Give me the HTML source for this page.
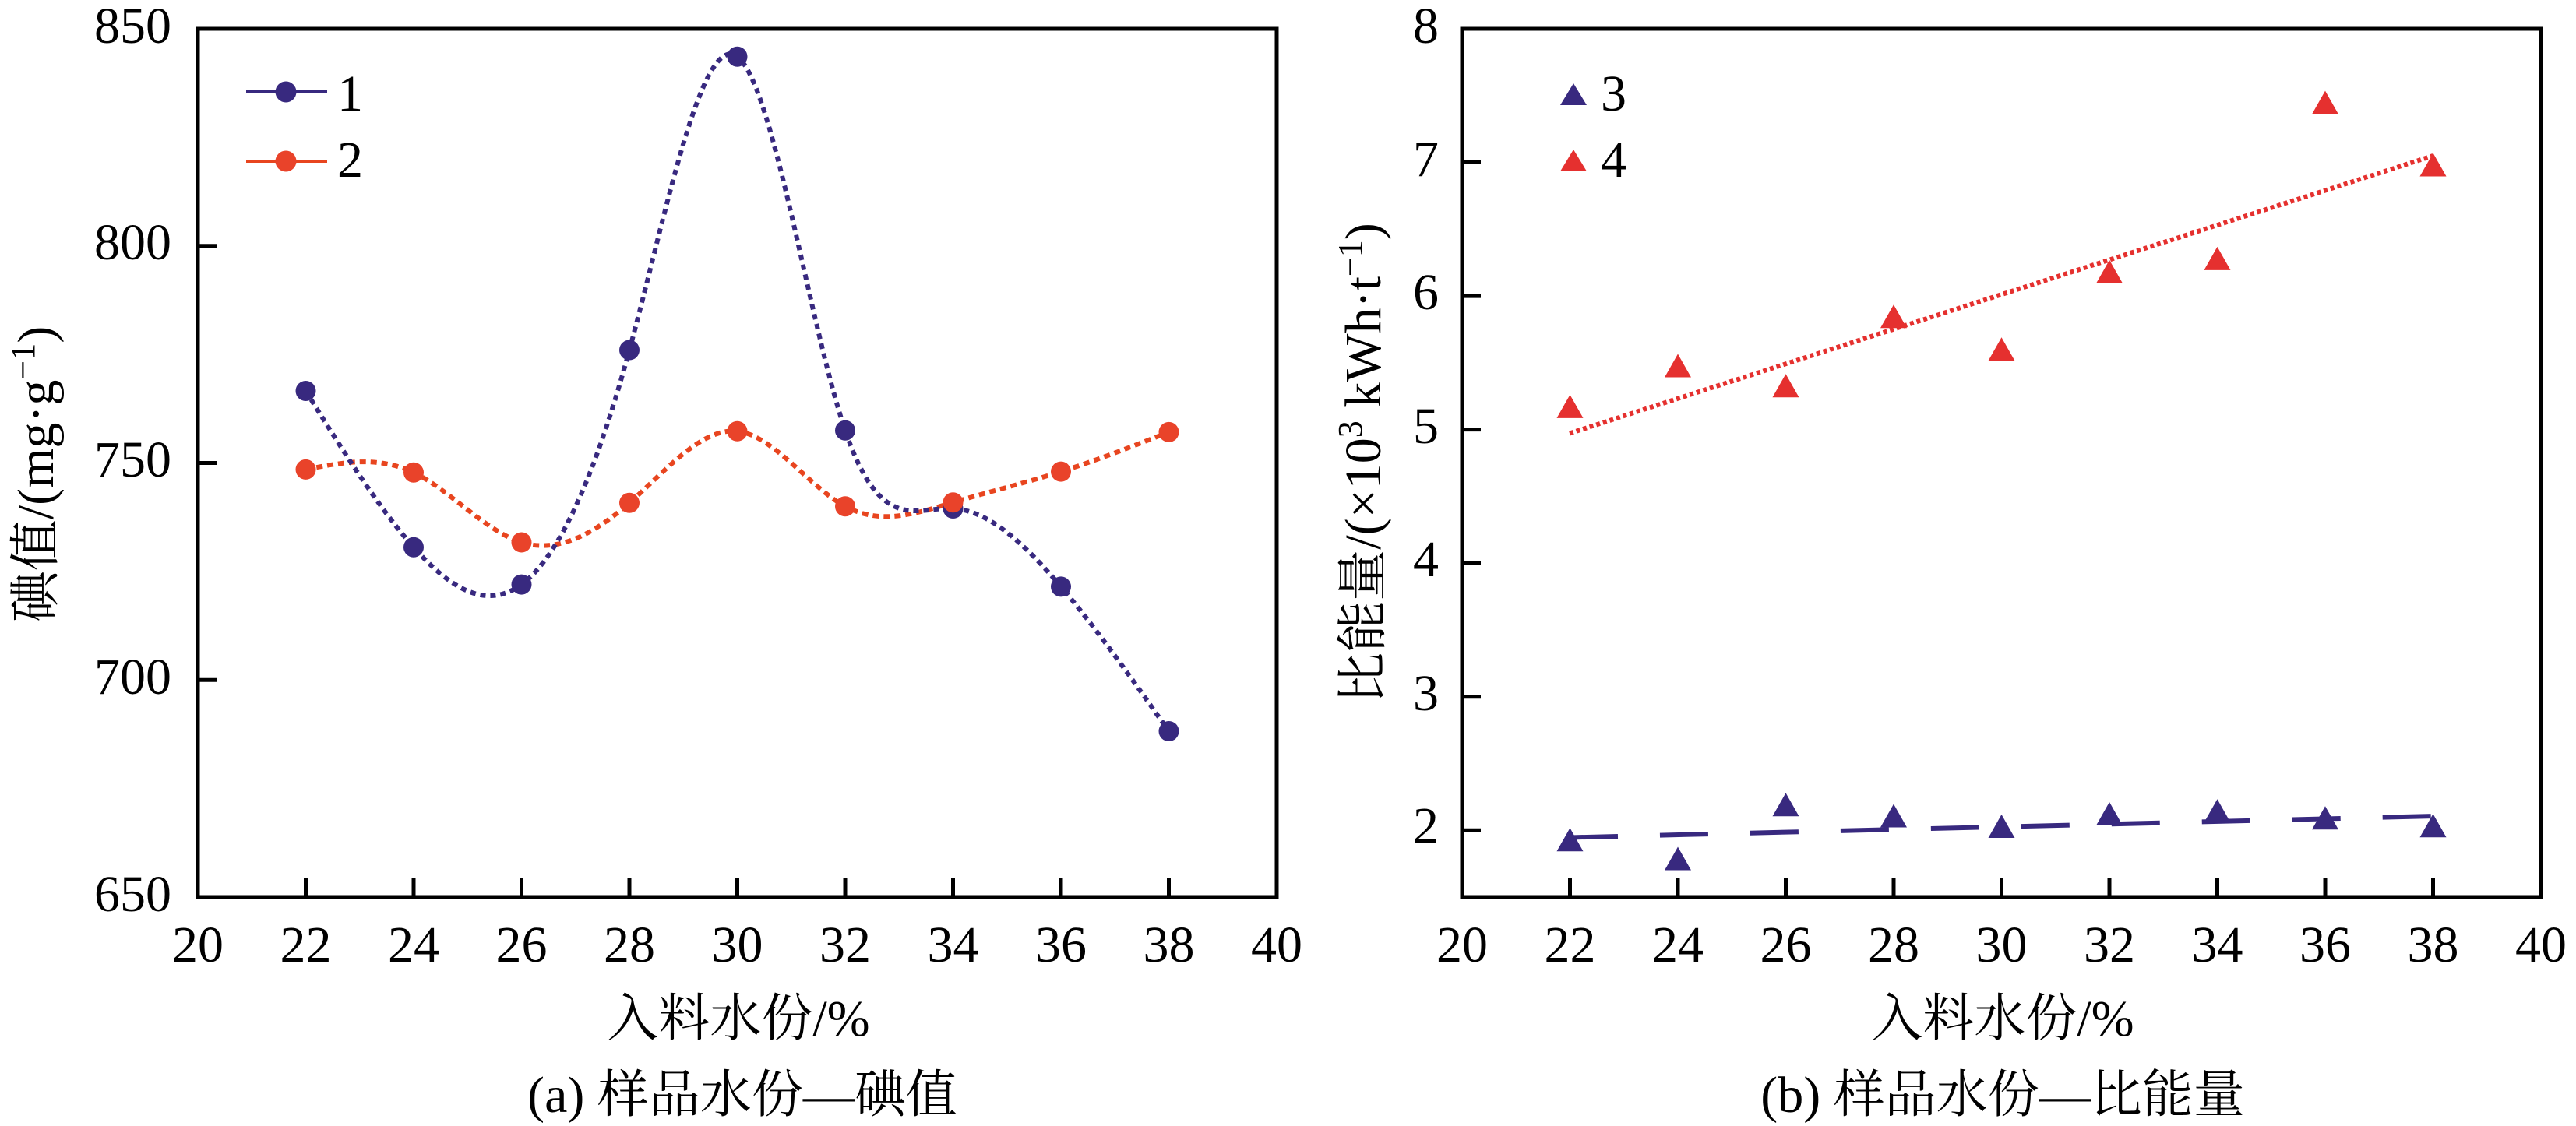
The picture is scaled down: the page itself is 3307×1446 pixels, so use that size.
<!DOCTYPE html>
<html>
<head>
<meta charset="utf-8">
<style>
html,body{margin:0;padding:0;background:#fff;}
svg{display:block;}
text{font-family:"Liberation Serif","Noto Serif CJK SC",serif;fill:#000;}
</style>
</head>
<body>
<svg width="3307" height="1446" viewBox="0 0 3307 1446" xmlns="http://www.w3.org/2000/svg">
<rect x="0" y="0" width="3307" height="1446" fill="#fff"/>

<!-- ================= LEFT PLOT ================= -->
<g stroke="#000" stroke-width="5" fill="none">
  <rect x="254" y="37" width="1385" height="1115"/>
  <path d="M392.5,1152V1128 M531,1152V1128 M669.5,1152V1128 M808,1152V1128 M946.5,1152V1128 M1085,1152V1128 M1223.5,1152V1128 M1362,1152V1128 M1500.5,1152V1128"/>
  <path d="M254,873.25H278 M254,594.5H278 M254,315.75H278"/>
</g>
<g font-size="66" text-anchor="middle">
  <text x="254" y="1235">20</text>
  <text x="392.5" y="1235">22</text>
  <text x="531" y="1235">24</text>
  <text x="669.5" y="1235">26</text>
  <text x="808" y="1235">28</text>
  <text x="946.5" y="1235">30</text>
  <text x="1085" y="1235">32</text>
  <text x="1223.5" y="1235">34</text>
  <text x="1362" y="1235">36</text>
  <text x="1500.5" y="1235">38</text>
  <text x="1639" y="1235">40</text>
</g>
<g font-size="66" text-anchor="end">
  <text x="220" y="55">850</text>
  <text x="220" y="333">800</text>
  <text x="220" y="612">750</text>
  <text x="220" y="891">700</text>
  <text x="220" y="1170">650</text>
</g>

<!-- series 2 (red) curve -->
<path d="M392.5,602.9 C438.67,593.8 484.83,584.7 531,606.8 C577.17,628.9 623.33,682.14 669.5,696.5 C715.67,710.86 761.83,686.32 808,645.8 C854.17,605.28 900.33,548.82 946.5,553.8 C992.67,558.78 1038.83,625.2 1085,650.25 C1131.17,675.3 1177.33,658.96 1223.5,645.2 C1269.67,631.44 1315.83,620.28 1362,605.65 C1408.17,591.02 1454.33,572.95 1500.5,554.9" fill="none" stroke="#e8451f" stroke-width="6" stroke-dasharray="8 6"/>

<!-- series 1 (blue) curve -->
<path d="M392.5,502 C438.67,576.32 484.83,650.64 531,702.7 C577.17,754.76 623.33,784.5 669.5,750.6 C715.67,716.7 761.83,619.11 808,449.55 C854.17,279.99 900.33,38.5 946.5,72.7 C992.67,106.9 1038.83,416.81 1085,552.7 C1131.17,688.59 1177.33,650.41 1223.5,653 C1269.67,655.59 1315.83,698.95 1362,753.4 C1408.17,807.85 1454.33,873.4 1500.5,939" fill="none" stroke="#38297f" stroke-width="6" stroke-dasharray="7 6"/>

<!-- red markers -->
<g fill="#e9432a">
  <circle cx="392.5" cy="602.9" r="13"/>
  <circle cx="531" cy="606.8" r="13"/>
  <circle cx="669.5" cy="696.5" r="13"/>
  <circle cx="808" cy="645.8" r="13"/>
  <circle cx="946.5" cy="553.8" r="13"/>
  <circle cx="1085" cy="650.25" r="13"/>
  <circle cx="1362" cy="605.65" r="13"/>
  <circle cx="1500.5" cy="554.9" r="13"/>
</g>
<!-- blue markers -->
<g fill="#38297f">
  <circle cx="392.5" cy="502" r="13"/>
  <circle cx="531" cy="702.7" r="13"/>
  <circle cx="669.5" cy="750.6" r="13"/>
  <circle cx="808" cy="449.55" r="13"/>
  <circle cx="946.5" cy="72.7" r="13"/>
  <circle cx="1085" cy="552.7" r="13"/>
  <circle cx="1223.5" cy="653" r="13"/>
  <circle cx="1362" cy="753.4" r="13"/>
  <circle cx="1500.5" cy="939" r="13"/>
</g>
<circle cx="1223.5" cy="645.2" r="13" fill="#e9432a"/>

<!-- left legend -->
<line x1="316" y1="118" x2="420" y2="118" stroke="#38297f" stroke-width="4"/>
<circle cx="367" cy="118" r="13.5" fill="#38297f"/>
<text x="433" y="142" font-size="66">1</text>
<line x1="316" y1="207" x2="420" y2="207" stroke="#e8451f" stroke-width="4"/>
<circle cx="367" cy="207" r="13.5" fill="#e9432a"/>
<text x="433" y="227" font-size="66">2</text>

<!-- left titles -->
<text x="948" y="1330" font-size="66" text-anchor="middle">入料水份/%</text>
<text x="953" y="1428" font-size="66" text-anchor="middle">(a) 样品水份—碘值</text>
<g transform="translate(68,609) rotate(-90)">
  <text x="0" y="0" font-size="66" text-anchor="middle">碘值/(mg·g<tspan dy="-24" font-size="44">−1</tspan><tspan dy="24">)</tspan></text>
</g>

<!-- ================= RIGHT PLOT ================= -->
<g stroke="#000" stroke-width="5" fill="none">
  <rect x="1877" y="37" width="1385" height="1115"/>
  <path d="M2015.5,1152V1128 M2154,1152V1128 M2292.5,1152V1128 M2431,1152V1128 M2569.5,1152V1128 M2708,1152V1128 M2846.5,1152V1128 M2985,1152V1128 M3123.5,1152V1128"/>
  <path d="M1877,1066.2H1901 M1877,894.7H1901 M1877,723.2H1901 M1877,551.6H1901 M1877,380.1H1901 M1877,208.5H1901"/>
</g>
<g font-size="66" text-anchor="middle">
  <text x="1877" y="1235">20</text>
  <text x="2015.5" y="1235">22</text>
  <text x="2154" y="1235">24</text>
  <text x="2292.5" y="1235">26</text>
  <text x="2431" y="1235">28</text>
  <text x="2569.5" y="1235">30</text>
  <text x="2708" y="1235">32</text>
  <text x="2846.5" y="1235">34</text>
  <text x="2985" y="1235">36</text>
  <text x="3123.5" y="1235">38</text>
  <text x="3262" y="1235">40</text>
</g>
<g font-size="66" text-anchor="end">
  <text x="1847" y="55">8</text>
  <text x="1847" y="226">7</text>
  <text x="1847" y="397">6</text>
  <text x="1847" y="569">5</text>
  <text x="1847" y="740">4</text>
  <text x="1847" y="912">3</text>
  <text x="1847" y="1082">2</text>
</g>

<!-- fit lines -->
<line x1="2015" y1="556.5" x2="3123.5" y2="200" stroke="#e5302e" stroke-width="6" stroke-dasharray="5 4"/>
<line x1="2015" y1="1075.5" x2="3126" y2="1048" stroke="#38297f" stroke-width="6" stroke-dasharray="62 54"/>

<!-- red triangles -->
<g fill="#e5302f">
  <polygon points="1998.5,536.9 2015.5,506.9 2032.5,536.9"/>
  <polygon points="2137,484.5 2154,454.5 2171,484.5"/>
  <polygon points="2275.5,510.2 2292.5,480.2 2309.5,510.2"/>
  <polygon points="2414,421.2 2431,391.2 2448,421.2"/>
  <polygon points="2552.5,463.3 2569.5,433.3 2586.5,463.3"/>
  <polygon points="2691,363.9 2708,333.9 2725,363.9"/>
  <polygon points="2829.5,346.9 2846.5,316.9 2863.5,346.9"/>
  <polygon points="2968,146.6 2985,116.6 3002,146.6"/>
  <polygon points="3106.5,226.5 3123.5,196.5 3140.5,226.5"/>
</g>
<!-- blue triangles -->
<g fill="#38297f">
  <polygon points="1998.5,1093.3 2015.5,1063.3 2032.5,1093.3"/>
  <polygon points="2137,1117.5 2154,1087.5 2171,1117.5"/>
  <polygon points="2275.5,1048.3 2292.5,1018.3 2309.5,1048.3"/>
  <polygon points="2414,1062.5 2431,1032.5 2448,1062.5"/>
  <polygon points="2552.5,1076 2569.5,1046 2586.5,1076"/>
  <polygon points="2691,1060 2708,1030 2725,1060"/>
  <polygon points="2829.5,1056.3 2846.5,1026.3 2863.5,1056.3"/>
  <polygon points="2968,1065.3 2985,1035.3 3002,1065.3"/>
  <polygon points="3106.5,1075.3 3123.5,1045.3 3140.5,1075.3"/>
</g>

<!-- right legend -->
<polygon points="2003,135 2020,107 2037,135" fill="#38297f"/>
<text x="2055" y="142" font-size="66">3</text>
<polygon points="2003,220 2020,192 2037,220" fill="#e5302f"/>
<text x="2055" y="227" font-size="66">4</text>

<!-- right titles -->
<text x="2571" y="1330" font-size="66" text-anchor="middle">入料水份/%</text>
<text x="2571" y="1428" font-size="66" text-anchor="middle">(b) 样品水份—比能量</text>
<g transform="translate(1772,595) rotate(-90)">
  <text x="0" y="0" font-size="66" text-anchor="middle">比能量/(×10<tspan dy="-24" font-size="44">3</tspan><tspan dy="24"> kWh·t</tspan><tspan dy="-24" font-size="44">−1</tspan><tspan dy="24">)</tspan></text>
</g>
</svg>
</body>
</html>
